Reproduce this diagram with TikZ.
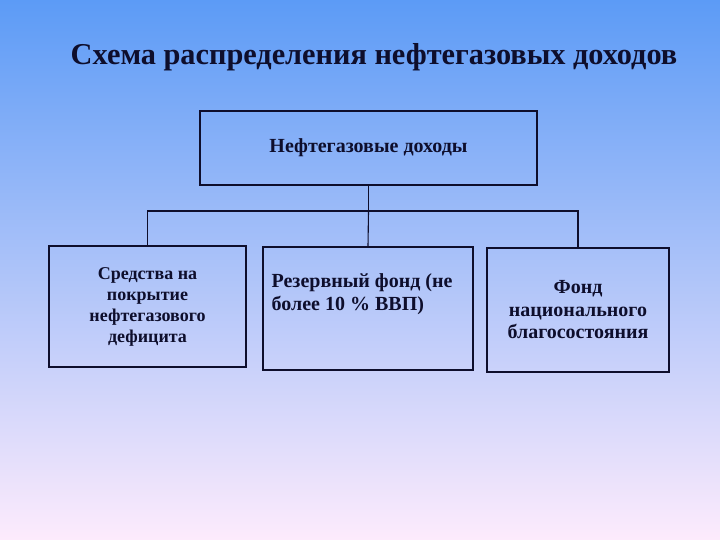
\documentclass[tikz,border=0pt]{standalone}
\usepackage{fontspec}
\setmainfont{Liberation Serif}
\definecolor{skytop}{RGB}{92,155,246}
\definecolor{skymid}{RGB}{160,198,243}
\definecolor{skybot}{RGB}{253,235,252}
\definecolor{ink}{RGB}{14,14,44}

\begin{document}
\begin{tikzpicture}[x=1pt,y=-1pt]
  \tikzstyle{box}=[draw=ink,line width=1.1pt,inner sep=0pt]
  \tikzstyle{txt}=[text=ink,font=\bfseries\fontsize{20}{22.5}\selectfont,align=center]
  \tikzstyle{link}=[draw=ink,line width=1.1pt]
  % background
  \shade[top color=skytop,middle color=skymid,bottom color=skybot] (0,0) rectangle (720,540);
  \useasboundingbox (0,0) rectangle (720,540);
  \node[text=ink,font=\bfseries\fontsize{30.3}{34}\selectfont] (title) at (374,57) {Схема распределения нефтегазовых доходов};
  \node[box,txt,minimum width=337pt,minimum height=74pt] (dohody) at (368.5,148) {\raisebox{-2pt}{Нефтегазовые доходы}};
  \node[box,txt,font=\bfseries\fontsize{18}{21}\selectfont,minimum width=197pt,minimum height=121pt] (sredstva) at (147.5,306.5) {Средства на\\покрытие\\нефтегазового\\дефицита};
  \node[box,minimum width=210pt,minimum height=123pt,
        label={[txt,align=left,anchor=north west,inner sep=0pt,xshift=9pt,yshift=-27pt]north west:Резервный фонд (не\\более 10 \% ВВП)}] (rezerv) at (368,308.5) {};
  \node[box,txt,minimum width=182pt,minimum height=124pt] (fond) at (578,310) {Фонд\\национального\\благосостояния};
  % connectors
  \coordinate (split) at (dohody.south |- 0,211);
  \draw[link] (dohody.south) -- (split);
  \draw[link] (split) -| (sredstva.north);
  \draw[link] (split) -| (fond.north);
  \draw[link] (split) -- (rezerv.north);
\end{tikzpicture}
\end{document}
